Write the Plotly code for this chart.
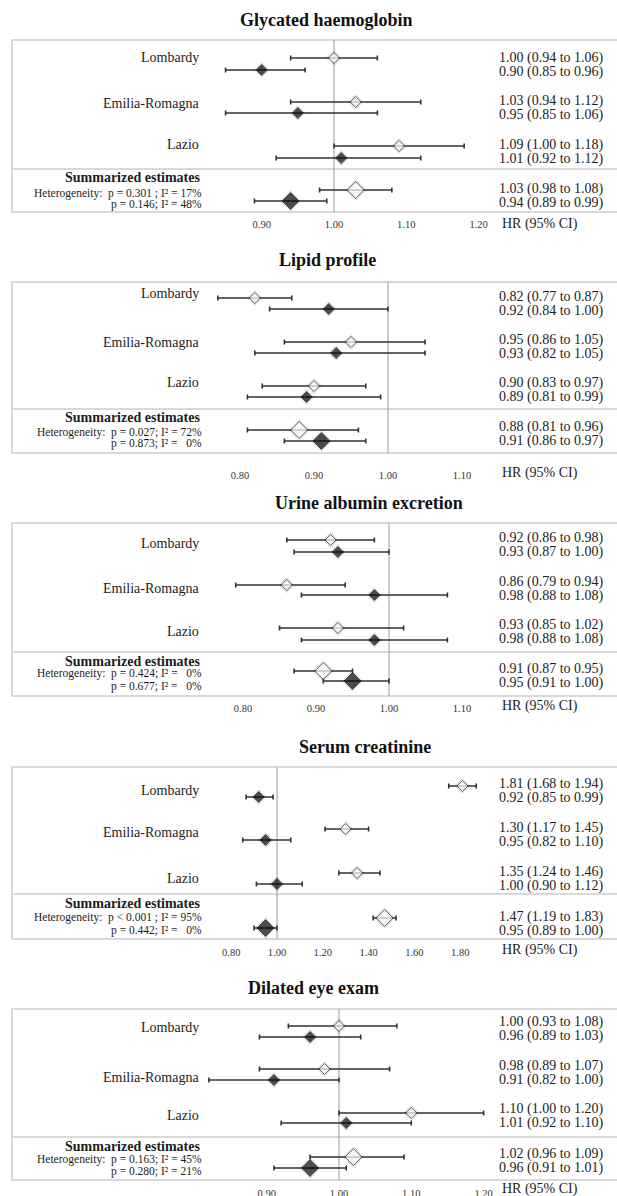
import plotly.graph_objects as go

W, H = 617, 1196
FONT = "Liberation Serif, Times New Roman, serif"

# ---------------- data ----------------
titles = ["Glycated haemoglobin", "Lipid profile", "Urine albumin excretion",
          "Serum creatinine", "Dilated eye exam"]
regions = ["Lombardy", "Emilia-Romagna", "Lazio"]
summary_label = "Summarized estimates"

# rows: Lombardy, Emilia-Romagna, Lazio, Summarized ; "open" = first estimate, "fill" = second
glyc_open_hr = [1.00, 1.03, 1.09, 1.03]
glyc_open_lo = [0.94, 0.94, 1.00, 0.98]
glyc_open_hi = [1.06, 1.12, 1.18, 1.08]
glyc_fill_hr = [0.90, 0.95, 1.01, 0.94]
glyc_fill_lo = [0.85, 0.85, 0.92, 0.89]
glyc_fill_hi = [0.96, 1.06, 1.12, 0.99]

lipid_open_hr = [0.82, 0.95, 0.90, 0.88]
lipid_open_lo = [0.77, 0.86, 0.83, 0.81]
lipid_open_hi = [0.87, 1.05, 0.97, 0.96]
lipid_fill_hr = [0.92, 0.93, 0.89, 0.91]
lipid_fill_lo = [0.84, 0.82, 0.81, 0.86]
lipid_fill_hi = [1.00, 1.05, 0.99, 0.97]

urine_open_hr = [0.92, 0.86, 0.93, 0.91]
urine_open_lo = [0.86, 0.79, 0.85, 0.87]
urine_open_hi = [0.98, 0.94, 1.02, 0.95]
urine_fill_hr = [0.93, 0.98, 0.98, 0.95]
urine_fill_lo = [0.87, 0.88, 0.88, 0.91]
urine_fill_hi = [1.00, 1.08, 1.08, 1.00]

creat_open_hr = [1.81, 1.30, 1.35, 1.47]
creat_open_lo = [1.68, 1.17, 1.24, 1.19]
creat_open_hi = [1.94, 1.45, 1.46, 1.83]
creat_fill_hr = [0.92, 0.95, 1.00, 0.95]
creat_fill_lo = [0.85, 0.82, 0.90, 0.89]
creat_fill_hi = [0.99, 1.10, 1.12, 1.00]
# whiskers as they are drawn in the creatinine panel (narrower than the reported CIs)
creat_open_bar_lo = [1.75, 1.21, 1.27, 1.42]
creat_open_bar_hi = [1.87, 1.40, 1.45, 1.52]
creat_fill_bar_lo = [0.865, 0.85, 0.91, 0.90]
creat_fill_bar_hi = [0.983, 1.06, 1.11, 1.00]

eye_open_hr = [1.00, 0.98, 1.10, 1.02]
eye_open_lo = [0.93, 0.89, 1.00, 0.96]
eye_open_hi = [1.08, 1.07, 1.20, 1.09]
eye_fill_hr = [0.96, 0.91, 1.01, 0.96]
eye_fill_lo = [0.89, 0.82, 0.92, 0.91]
eye_fill_hi = [1.03, 1.00, 1.10, 1.01]

het_open_p = ["= 0.301 ", "= 0.027", "= 0.424", "< 0.001 ", "= 0.163"]
het_open_i2 = [17, 72, 0, 95, 45]
het_fill_p = ["= 0.146", "= 0.873", "= 0.677", "= 0.442", "= 0.280"]
het_fill_i2 = [48, 0, 0, 0, 21]

tick_values = [
    [0.90, 1.00, 1.10, 1.20],
    [0.80, 0.90, 1.00, 1.10],
    [0.80, 0.90, 1.00, 1.10],
    [0.80, 1.00, 1.20, 1.40, 1.60, 1.80],
    [0.90, 1.00, 1.10, 1.20],
]
axis_label = "HR (95% CI)"

panels_data = [
    dict(open=(glyc_open_hr, glyc_open_lo, glyc_open_hi), fill=(glyc_fill_hr, glyc_fill_lo, glyc_fill_hi)),
    dict(open=(lipid_open_hr, lipid_open_lo, lipid_open_hi), fill=(lipid_fill_hr, lipid_fill_lo, lipid_fill_hi)),
    dict(open=(urine_open_hr, urine_open_lo, urine_open_hi), fill=(urine_fill_hr, urine_fill_lo, urine_fill_hi)),
    dict(open=(creat_open_hr, creat_open_lo, creat_open_hi), fill=(creat_fill_hr, creat_fill_lo, creat_fill_hi),
         open_bar=(creat_open_bar_lo, creat_open_bar_hi), fill_bar=(creat_fill_bar_lo, creat_fill_bar_hi)),
    dict(open=(eye_open_hr, eye_open_lo, eye_open_hi), fill=(eye_fill_hr, eye_fill_lo, eye_fill_hi)),
]

# ---------------- layout geometry (pixels) ----------------
geo = [
    dict(title=(326, 20), box=(40, 212), sep=169, ref=334, scale=723, tick_y=224, hr_y=224,
         open_y=[58, 102, 146, 190], fill_y=[70, 113, 158, 201], lab_y=[57, 103, 144],
         sum_y=177, het_y=(193, 204), txt_open=[58, 101, 145, 189], txt_fill=[72, 115, 159, 203]),
    dict(title=(327, 260), box=(282, 453), sep=409, ref=388, scale=740, tick_y=475, hr_y=473,
         open_y=[298, 342, 386, 430], fill_y=[309, 353, 397, 441], lab_y=[293, 342, 382],
         sum_y=417, het_y=(432, 443), txt_open=[297, 340, 383, 427], txt_fill=[311, 354, 397, 441]),
    dict(title=(369, 503), box=(523, 696), sep=652, ref=389, scale=730, tick_y=708, hr_y=706,
         open_y=[540, 585, 628, 671], fill_y=[552, 595, 640, 681], lab_y=[543, 588, 631],
         sum_y=661, het_y=(673, 686), txt_open=[538, 582, 625, 669], txt_fill=[552, 596, 639, 683]),
    dict(title=(365, 747), box=(767, 939), sep=894, ref=277, scale=229, tick_y=952, hr_y=950,
         open_y=[786, 829, 873, 918], fill_y=[797, 840, 884, 928], lab_y=[790, 832, 878],
         sum_y=903, het_y=(917, 930), txt_open=[784, 828, 872, 917], txt_fill=[798, 842, 886, 931]),
    dict(title=(313, 988), box=(1009, 1180), sep=1137, ref=339, scale=723, tick_y=1193, hr_y=1189,
         open_y=[1026, 1069, 1113, 1157], fill_y=[1037, 1080, 1123, 1168], lab_y=[1027, 1077, 1115],
         sum_y=1146, het_y=(1159, 1171), txt_open=[1022, 1066, 1109, 1154], txt_fill=[1036, 1080, 1123, 1168]),
]

BOX_X0 = 12
LEFT_LAB_X = 201
SUM_X = 202
HET_X = 204
RIGHT_TXT_X = 497
HR_LAB_X = 500
TXT = "#1c1c1c"
BAR = "#333333"
FRAME = "#cdcdcd"

fig = go.Figure()
shapes, annotations = [], []


def px(x):
    return x / W


for i, (d, g) in enumerate(zip(panels_data, geo)):
    xa = "x" if i == 0 else f"x{i + 1}"
    # markers + whiskers
    for kind in ("open", "fill"):
        hr, lo, hi = d[kind]
        blo, bhi = d.get(kind + "_bar", (lo, hi))
        ys = g[kind + "_y"]
        sizes = [8.5, 8.5, 8.5, 13]
        # soft shadow
        fig.add_trace(go.Scatter(
            x=hr, y=ys, xaxis=xa, yaxis="y", mode="markers", hoverinfo="skip", showlegend=False,
            marker=dict(symbol="diamond", size=[s + 4 for s in sizes], color="rgba(90,90,90,0.22)",
                        line=dict(width=0))))
        fig.add_trace(go.Scatter(
            x=hr, y=ys, xaxis=xa, yaxis="y", mode="markers", showlegend=False,
            error_x=dict(type="data", symmetric=False,
                         array=[h - v for h, v in zip(bhi, hr)],
                         arrayminus=[v - l for v, l in zip(hr, blo)],
                         color=BAR, thickness=1.6, width=2.5),
            marker=dict(symbol="diamond", size=sizes,
                        color="white" if kind == "open" else "#0a0a0a",
                        line=dict(color="#2a2a2a" if kind == "open" else "#0a0a0a", width=1))))
        # right-hand text
        for v, l, h, ty in zip(hr, lo, hi, g["txt_" + kind]):
            annotations.append(dict(x=px(RIGHT_TXT_X), y=ty, xref="paper", yref="y",
                                    text=f"{v:.2f} ({l:.2f} to {h:.2f})", showarrow=False,
                                    xanchor="left", yanchor="middle",
                                    font=dict(family=FONT, size=14, color=TXT)))
    # title
    annotations.append(dict(x=px(g["title"][0]), y=g["title"][1], xref="paper", yref="y",
                            text=f"<b>{titles[i]}</b>", showarrow=False, xanchor="center",
                            yanchor="middle", font=dict(family=FONT, size=18, color="#111111")))
    # region labels
    for r, ly in zip(regions, g["lab_y"]):
        annotations.append(dict(x=px(LEFT_LAB_X), y=ly, xref="paper", yref="y", text=r,
                                showarrow=False, xanchor="right", yanchor="middle",
                                font=dict(family=FONT, size=14, color=TXT)))
    annotations.append(dict(x=px(SUM_X), y=g["sum_y"], xref="paper", yref="y",
                            text=f"<b>{summary_label}</b>", showarrow=False, xanchor="right",
                            yanchor="middle", font=dict(family=FONT, size=14, color=TXT)))

    def i2txt(v):
        return f"{v}%" if v >= 10 else f"&nbsp;&nbsp;{v}%"

    het1 = f"Heterogeneity:&nbsp; p {het_open_p[i]}; I² = {i2txt(het_open_i2[i])}"
    het2 = f"p {het_fill_p[i]}; I² = {i2txt(het_fill_i2[i])}"
    for t, hy in zip((het1, het2), g["het_y"]):
        annotations.append(dict(x=px(HET_X), y=hy, xref="paper", yref="y", text=t,
                                showarrow=False, xanchor="right", yanchor="middle",
                                font=dict(family=FONT, size=11.5, color=TXT)))
    # axis label
    annotations.append(dict(x=px(HR_LAB_X), y=g["hr_y"], xref="paper", yref="y", text=axis_label,
                            showarrow=False, xanchor="left", yanchor="middle",
                            font=dict(family=FONT, size=14, color=TXT)))
    # frame, separator, reference line
    shapes.append(dict(type="rect", xref="paper", yref="y", x0=px(BOX_X0), x1=px(W + 6),
                       y0=g["box"][0], y1=g["box"][1], line=dict(color=FRAME, width=1.5),
                       layer="below"))
    shapes.append(dict(type="line", xref="paper", yref="y", x0=px(BOX_X0), x1=px(W + 6),
                       y0=g["sep"], y1=g["sep"], line=dict(color=FRAME, width=1.5), layer="below"))
    shapes.append(dict(type="line", xref=xa, yref="y", x0=1.0, x1=1.0,
                       y0=g["box"][0], y1=g["box"][1], line=dict(color="#9a9a9a", width=1),
                       layer="below"))
    # x axis
    rng = [1.0 - g["ref"] / g["scale"], 1.0 + (W - g["ref"]) / g["scale"]]
    ax = dict(range=rng, domain=[0, 1], anchor="free", position=1 - (g["tick_y"] - 8) / H,
              tickvals=tick_values[i], tickformat=".2f", showgrid=False, zeroline=False,
              showline=False, ticks="", fixedrange=True, automargin=False,
              tickfont=dict(family=FONT, size=10.5, color="#333333"))
    if i > 0:
        ax["overlaying"] = "x"
    fig.update_layout(**{("xaxis" if i == 0 else f"xaxis{i + 1}"): ax})

fig.update_layout(
    width=W, height=H, margin=dict(l=0, r=0, t=0, b=0),
    paper_bgcolor="white", plot_bgcolor="white", showlegend=False,
    yaxis=dict(range=[H, 0], domain=[0, 1], visible=False, fixedrange=True),
    shapes=shapes, annotations=annotations,
)

fig.write_html(
    "out.html",
    config={"displayModeBar": False},
    post_script="document.body.style.margin='0';document.body.style.padding='0';",
)
